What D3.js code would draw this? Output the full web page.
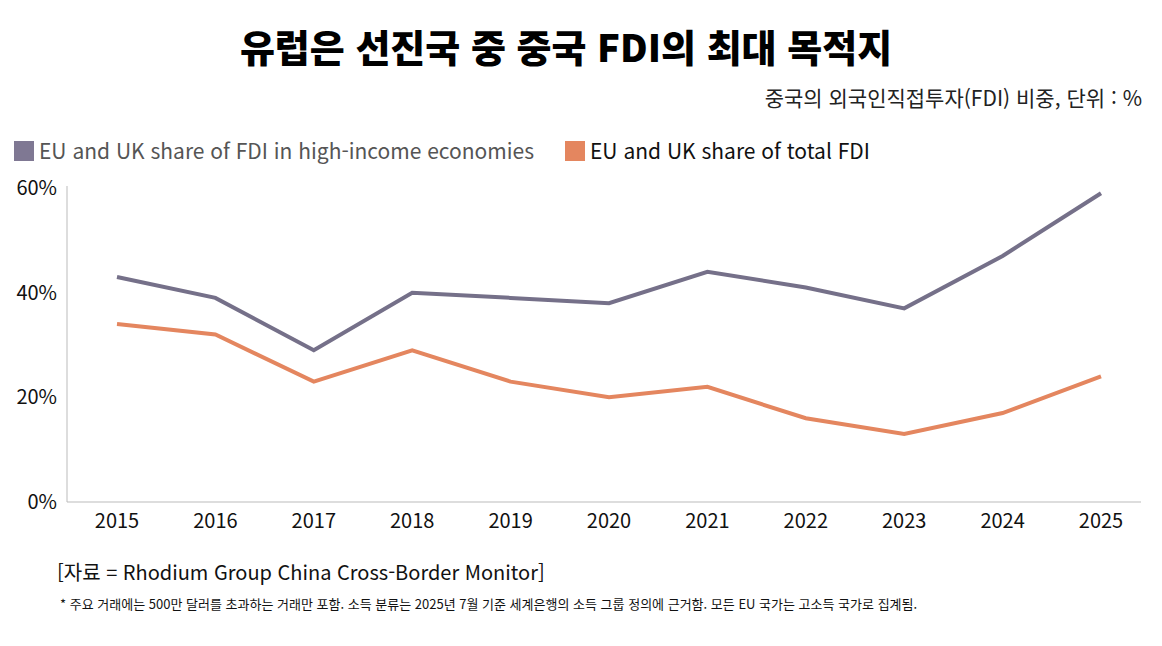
<!DOCTYPE html>
<html lang="ko">
<head>
<meta charset="UTF-8">
<title>유럽은 선진국 중 중국 FDI의 최대 목적지</title>
<script src="https://d3js.org/d3.v7.min.js"></script>
<style>
  body { margin: 0; background: #fff; }
  text { font-family: "Noto Sans CJK KR", "Noto Sans", sans-serif; }
</style>
</head>
<body>
<svg id="chart" width="1162" height="646"></svg>
<script>
  // chart data
  const years = ["2015","2016","2017","2018","2019","2020","2021","2022","2023","2024","2025"];
  const highIncomeShare = [43, 39, 29, 40, 39, 38, 44, 41, 37, 47, 59];
  const totalShare = [34, 32, 23, 29, 23, 20, 22, 16, 13, 17, 24];
  const yTicks = [0, 20, 40, 60];

  const svg = d3.select("#chart");

  // title + subtitle
  svg.append("text").attr("x", 566).attr("y", 62).attr("text-anchor", "middle")
     .attr("font-size", 38).attr("font-weight", 900).attr("fill", "#000")
     .text("유럽은 선진국 중 중국 FDI의 최대 목적지");
  svg.append("text").attr("x", 1142).attr("y", 106).attr("text-anchor", "end")
     .attr("font-size", 21).attr("fill", "#222")
     .text("중국의 외국인직접투자(FDI) 비중, 단위 : %");

  // legend
  const legend = [
    { label: "EU and UK share of FDI in high-income economies", color: "#7f7893", x: 14, tc: "#555" },
    { label: "EU and UK share of total FDI", color: "#e4865f", x: 565, tc: "#111" }
  ];
  legend.forEach(l => {
    svg.append("rect").attr("x", l.x).attr("y", 141).attr("width", 20).attr("height", 20).attr("fill", l.color);
    svg.append("text").attr("x", l.x + 25).attr("y", 159).attr("font-size", 21)
       .attr("font-family", "Roboto").attr("fill", l.tc).text(l.label);
  });

  // scales
  const x = d3.scalePoint().domain(years).range([117, 1101]);
  const y = d3.scaleLinear().domain([0, 60]).range([502, 188]);

  // axes
  svg.append("line").attr("x1", 67).attr("x2", 67).attr("y1", 186).attr("y2", 502).attr("stroke", "#bbb");
  svg.append("line").attr("x1", 67).attr("x2", 1141).attr("y1", 502).attr("y2", 502).attr("stroke", "#bbb");

  svg.selectAll(".ytick").data(yTicks).join("text")
     .attr("x", 57).attr("y", d => y(d) + 7).attr("text-anchor", "end")
     .attr("font-family", "Roboto").attr("font-size", 20).attr("fill", "#111")
     .text(d => d + "%");

  svg.selectAll(".xtick").data(years).join("text")
     .attr("x", d => x(d)).attr("y", 528).attr("text-anchor", "middle")
     .attr("font-family", "Roboto").attr("font-size", 20).attr("fill", "#111")
     .text(d => d);

  // lines
  const line = d3.line().x((d, i) => x(years[i])).y(d => y(d));
  svg.append("path").datum(highIncomeShare).attr("d", line)
     .attr("fill", "none").attr("stroke", "#757089").attr("stroke-width", 4);
  svg.append("path").datum(totalShare).attr("d", line)
     .attr("fill", "none").attr("stroke", "#e4865f").attr("stroke-width", 4);

  // source + note
  svg.append("text").attr("x", 57).attr("y", 580).attr("font-size", 20).attr("fill", "#111")
     .text("[자료 = Rhodium Group China Cross-Border Monitor]");
  svg.append("text").attr("x", 60).attr("y", 609).attr("font-size", 13).attr("fill", "#111")
     .text("* 주요 거래에는 500만 달러를 초과하는 거래만 포함. 소득 분류는 2025년 7월 기준 세계은행의 소득 그룹 정의에 근거함. 모든 EU 국가는 고소득 국가로 집계됨.");
</script>
</body>
</html>
